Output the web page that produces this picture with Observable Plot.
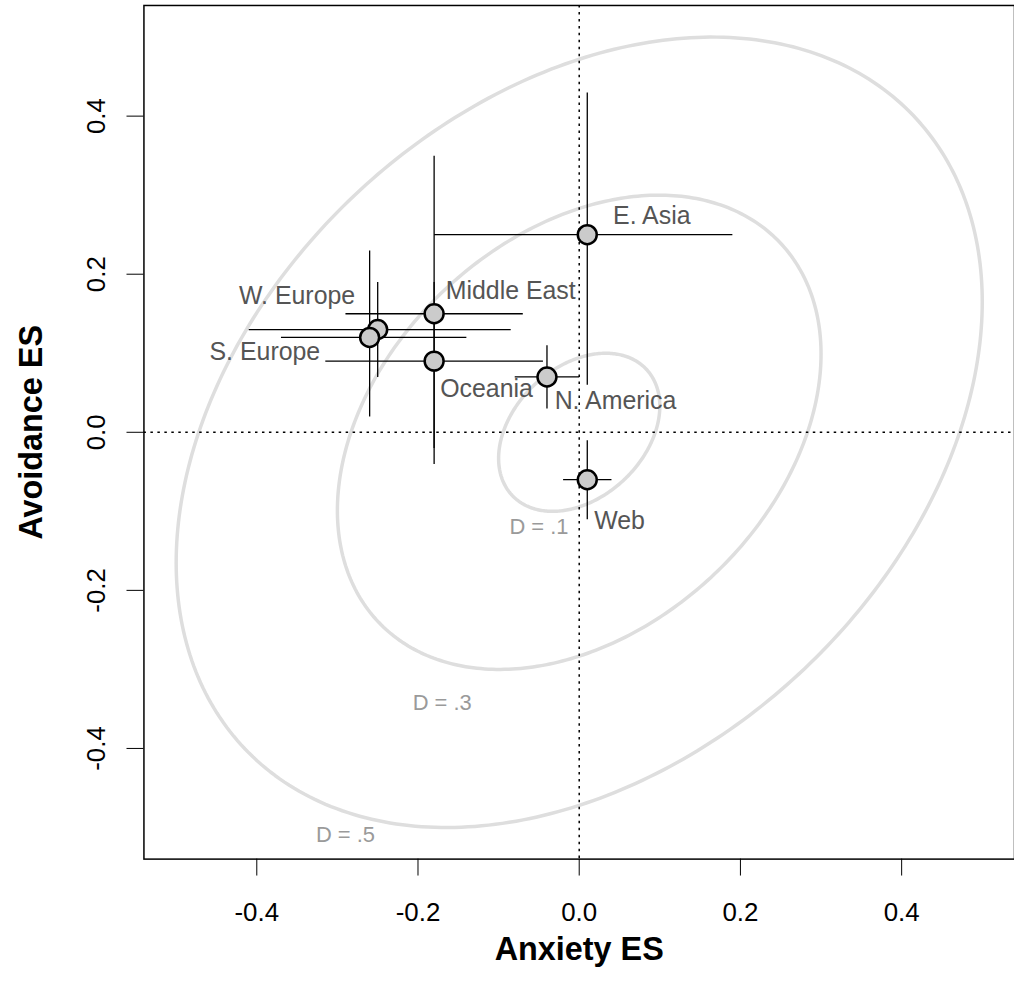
<!DOCTYPE html>
<html>
<head>
<meta charset="utf-8">
<script src="https://cdn.jsdelivr.net/npm/d3@7"></script>
<script src="https://cdn.jsdelivr.net/npm/@observablehq/plot@0.6"></script>
<style>
  html, body { margin: 0; padding: 0; background: #fff; overflow: hidden; }
  #chart svg { display: block; }
</style>
</head>
<body>
<div id="chart"></div>
<script>
// ---- data ----
const regions  = ["E. Asia", "Middle East", "W. Europe", "S. Europe", "Oceania", "N. America", "Web"];
const anxiety  = [0.01, -0.18, -0.25, -0.26, -0.18, -0.04, 0.01];
const avoid    = [0.25, 0.15, 0.13, 0.12, 0.09, 0.07, -0.06];
const anxLo    = [-0.18, -0.29, -0.41, -0.37, -0.315, -0.08, -0.02];
const anxHi    = [0.19, -0.07, -0.085, -0.14, -0.045, 0.0, 0.04];
const avoLo    = [0.06, -0.04, 0.07, 0.02, -0.02, 0.03, -0.11];
const avoHi    = [0.43, 0.35, 0.19, 0.23, 0.19, 0.11, -0.01];
const labelX   = [0.09, -0.085, -0.35, -0.39, -0.115, 0.045, 0.05];
const labelY   = [0.274, 0.179, 0.172, 0.102, 0.0545, 0.039, -0.112];

const dLevels  = [0.1, 0.3, 0.5];
const dLabels  = ["D = .1", "D = .3", "D = .5"];
const dLabelX  = [-0.05, -0.17, -0.29];
const dLabelY  = [-0.12, -0.343, -0.51];
const corrAA   = 0.33;   // anxiety–avoidance correlation shaping the D contours

const xTicks = [-0.4, -0.2, 0.0, 0.2, 0.4];
const xTickLabels = ["-0.4", "-0.2", "0.0", "0.2", "0.4"];
const yTicks = [-0.4, -0.2, 0.0, 0.2, 0.4];
const yTickLabels = ["-0.4", "-0.2", "0.0", "0.2", "0.4"];

// ---- tables built from the arrays ----
const pts = regions.map((name, i) => ({
  name, x: anxiety[i], y: avoid[i],
  xlo: anxLo[i], xhi: anxHi[i], ylo: avoLo[i], yhi: avoHi[i],
  lx: labelX[i], ly: labelY[i]
}));
const delta = Math.acos(corrAA);
const ellipses = dLevels.flatMap(D =>
  d3.range(0, 361, 1).map(a => {
    const t = a * Math.PI / 180;
    return { D, x: D * Math.cos(t), y: D * Math.cos(t + delta) };
  })
);
const dLab = dLabels.map((t, i) => ({ t, x: dLabelX[i], y: dLabelY[i] }));

const font = "'Liberation Sans', Arial, Helvetica, sans-serif";

const chart = Plot.plot({
  width: 1018,
  height: 997,
  marginLeft: 144,
  marginRight: 0,
  marginTop: 5,
  marginBottom: 135,
  style: { fontFamily: font, background: "#fff", overflow: "visible" },
  x: { domain: [-0.54, 0.54], axis: null },
  y: { domain: [-0.54, 0.54], axis: null },
  marks: [
    Plot.line(ellipses, { x: "x", y: "y", z: "D", stroke: "#dedede", strokeWidth: 3.5 }),
    Plot.text(dLab, { x: "x", y: "y", text: "t", fill: "#9a9a9a", fontSize: 22 }),
    Plot.ruleX([0], { stroke: "#000", strokeWidth: 1.5, strokeDasharray: "2.5,4.5" }),
    Plot.ruleY([0], { stroke: "#000", strokeWidth: 1.5, strokeDasharray: "2.5,4.5" }),
    Plot.link(pts, { x1: "xlo", x2: "xhi", y1: "y", y2: "y", stroke: "#000", strokeWidth: 1.3 }),
    Plot.link(pts, { x1: "x", x2: "x", y1: "ylo", y2: "yhi", stroke: "#000", strokeWidth: 1.3 }),
    Plot.dot(pts, { x: "x", y: "y", r: 9.5, fill: "#cbcbcb", stroke: "#000", strokeWidth: 2.5 }),
    Plot.text(pts, { x: "lx", y: "ly", text: "name", fill: "#555", fontSize: 25 }),
    Plot.axisX({ ticks: xTicks, tickSize: 17, tickPadding: 27, fontSize: 26, stroke: "#000", color: "#000",
      tickFormat: d => xTickLabels[xTicks.indexOf(d)], label: null }),
    Plot.axisY({ ticks: yTicks, tickSize: 17, tickPadding: 22, fontSize: 26, tickRotate: -90, stroke: "#000", color: "#000",
      tickFormat: d => yTickLabels[yTicks.indexOf(d)], label: null }),
    Plot.frame({ stroke: "#000", strokeWidth: 1.5 }),
    Plot.text(["Anxiety ES"], { frameAnchor: "bottom", lineAnchor: "middle", textAnchor: "middle", dy: 91,
      fontWeight: "bold", fontSize: 32.5, fill: "#000" }),
    Plot.text(["Avoidance ES"], { frameAnchor: "left", lineAnchor: "middle", textAnchor: "middle", dx: -113, rotate: -90,
      fontWeight: "bold", fontSize: 32.5, fill: "#000" })
  ]
});
document.getElementById("chart").appendChild(chart);
</script>
</body>
</html>
